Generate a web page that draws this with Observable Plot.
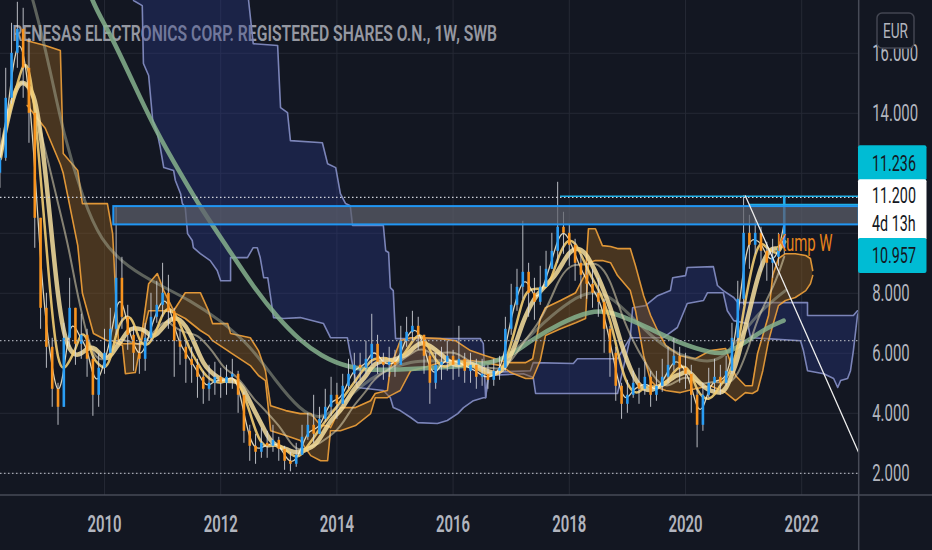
<!DOCTYPE html>
<html><head><meta charset="utf-8">
<script src="https://cdn.jsdelivr.net/npm/d3@7"></script>
<script src="https://cdn.jsdelivr.net/npm/@observablehq/plot@0.6"></script>
<style>html,body{margin:0;padding:0;background:#131722;overflow:hidden}</style>
</head><body><div id="chart"></div>
<script>
// ---------- data ----------
const title = "RENESAS ELECTRONICS CORP. REGISTERED SHARES O.N., 1W, SWB";
const currency = "EUR";
const cloudLabel = "Kump W";
const yearTicks = [2010, 2012, 2014, 2016, 2018, 2020, 2022];
const priceGrid = [2, 4, 6, 8, 10, 12, 14, 16];
const priceLabels = [2, 4, 6, 8, 14, 16]; // 10 and 12 sit under the price tags

// price bars, one every 0.1 year from 2008.2
const priceStart = 2008.2, priceStep = 0.1, firstOpen = 12.0;
const close = [
12.5,14.5,16.0,16.8,15.5,14.0,10.5,7.5,6.2,4.8,
4.2,6.5,7.5,6.3,6.6,5.8,4.6,5.5,6.0,6.8,
8.5,7.2,6.6,6.0,5.8,6.5,7.2,7.6,8.0,7.4,
6.4,6.2,5.8,5.6,5.2,4.8,5.0,5.2,5.0,5.2,
5.3,4.6,3.4,2.9,2.7,3.0,2.9,3.1,2.8,2.4,
2.3,2.6,3.2,3.6,3.3,3.8,4.2,4.6,4.3,4.9,
5.3,5.6,5.5,5.8,6.3,5.7,5.6,5.7,5.6,6.4,
6.7,6.9,6.6,5.9,5.0,5.6,5.7,5.9,5.6,5.8,
5.4,5.6,5.2,5.3,5.1,5.4,5.5,6.8,7.6,8.2,
8.7,8.0,7.7,8.2,8.8,9.4,10.2,10.0,9.6,9.0,
8.6,8.3,8.0,7.7,6.8,6.0,4.9,4.3,4.6,5.0,
4.8,5.2,4.6,4.9,5.2,5.6,5.9,5.5,5.3,4.6,
3.6,4.6,5.0,5.2,5.0,5.4,6.5,7.8,10.0,9.6,
10.0,9.4,9.0,9.2,9.5,11.2];
const high = [
13.5,15.5,17.0,17.7,17.5,16.5,14.0,10.5,8.0,6.5,
5.0,7.0,8.5,7.5,7.3,6.8,5.9,6.0,6.8,7.5,
10.9,9.2,7.6,6.9,6.4,7.0,8.0,8.4,9.0,8.6,
7.5,6.8,6.4,6.2,5.8,5.4,5.6,5.7,5.5,5.6,
5.8,5.4,4.7,3.6,3.3,3.5,3.4,3.6,3.2,2.9,
2.7,3.0,3.6,4.0,4.6,4.2,4.8,5.2,5.0,5.3,
5.8,6.0,6.0,6.4,7.3,6.6,6.0,6.2,6.1,6.9,
7.2,7.4,7.2,6.6,6.0,6.0,6.2,6.4,6.1,6.9,
6.0,6.0,5.8,5.8,5.6,5.8,5.9,7.2,8.3,8.8,
10.4,9.0,8.5,8.9,9.4,10.0,11.7,10.7,10.3,9.8,
9.3,9.0,8.8,8.5,7.8,6.9,6.2,5.0,5.1,5.4,
5.5,5.7,5.4,5.4,5.8,6.2,6.5,6.2,6.0,5.6,
4.8,5.0,5.5,5.8,5.6,5.9,7.0,8.4,11.25,10.6,
10.5,10.2,9.7,9.8,10.0,11.236];
const low = [
11.5,12.4,14.3,15.5,14.5,13.0,9.5,6.8,5.5,4.2,
3.6,4.2,6.2,5.6,5.8,5.2,3.9,4.2,5.3,6.0,
6.6,6.8,6.1,5.4,5.3,5.4,6.4,7.0,7.2,6.8,
5.2,5.6,5.0,5.0,4.5,4.3,4.4,4.6,4.5,4.6,
4.8,4.0,3.0,2.4,2.3,2.5,2.5,2.7,2.4,2.1,
2.05,2.2,2.6,3.1,3.0,3.3,3.7,3.9,3.8,4.3,
4.8,5.0,5.1,5.3,5.6,5.3,5.1,5.2,5.2,5.6,
6.2,6.4,6.1,5.3,4.3,4.8,5.1,5.4,5.1,5.2,
5.0,5.0,4.8,4.9,4.8,4.9,5.1,5.4,6.6,7.4,
7.8,7.2,7.1,7.6,8.2,8.8,9.0,9.3,8.9,8.4,
7.8,7.8,7.5,7.2,6.0,5.2,4.4,3.8,4.0,4.5,
4.3,4.6,4.2,4.4,4.7,5.0,5.4,5.0,4.8,4.0,
2.85,3.4,4.5,4.7,4.6,4.9,5.3,6.4,7.6,8.8,
9.3,8.7,8.4,8.5,8.9,9.3];

// weekly Ichimoku cloud (Kumo W): time, upper edge, lower edge
const kumoT = [2008.67,2008.98,2009.24,2009.29,2009.54,2009.62,2009.81,2010.05,2010.14,2010.19,2010.24,2010.31,2010.36,2010.53,2010.62,2010.76,2010.91,2011.02,2011.19,2011.39,2011.65,2011.79,2011.86,2012.12,2012.17,2012.51,2012.65,2012.77,2012.86,2013.12,2013.37,2013.55,2013.72,2013.84,2013.89,2014.06,2014.32,2014.58,2014.66,2014.87,2014.92,2015.09,2015.27,2015.49,2015.78,2016.04,2016.30,2016.56,2016.82,2016.99,2017.25,2017.37,2017.50,2017.59,2017.85,2018.11,2018.28,2018.33,2018.45,2018.57,2018.71,2018.83,2019.05,2019.14,2019.28,2019.40,2019.52,2019.66,2019.91,2020.17,2020.43,2020.69,2020.86,2021.03,2021.15,2021.24,2021.33,2021.43,2021.50,2021.60,2021.72,2021.89,2022.07,2022.15,2022.19];
const kumoHi = [16.42,16.26,16.09,12.66,12.09,10.99,10.99,10.99,9.99,8.09,6.42,6.32,6.32,6.32,6.32,8.32,8.66,8.09,7.42,8.02,8.02,7.42,6.99,6.99,6.66,6.52,6.09,5.42,4.25,4.09,3.99,3.99,3.59,3.59,3.52,4.19,4.19,4.42,4.66,4.76,5.52,6.42,6.52,6.52,6.49,6.42,6.09,5.92,5.76,5.69,5.69,5.82,7.16,7.52,7.76,8.02,8.66,10.15,10.15,9.59,9.56,9.49,9.49,8.92,7.92,7.26,6.76,6.26,5.92,5.82,6.09,6.16,5.26,4.92,4.92,5.99,6.59,7.26,8.59,9.16,9.32,9.32,9.26,9.16,8.76];
const kumoLo = [14.26,13.5,12.3,12.0,9.59,8.0,6.66,6.42,6.42,6.36,6.32,6.26,5.32,5.36,6.26,7.42,7.42,7.42,7.36,7.16,6.76,6.59,6.42,6.09,6.02,5.59,5.26,5.09,3.42,3.26,3.09,2.59,2.42,2.42,3.42,3.42,3.59,3.99,4.52,4.52,4.59,4.76,5.42,5.52,5.69,5.76,5.76,5.69,5.59,5.36,5.16,5.16,5.76,6.59,6.82,7.02,7.16,9.02,9.09,9.09,9.02,8.59,8.09,7.42,5.92,5.09,4.86,4.76,4.69,4.82,4.92,4.69,4.42,4.69,4.66,4.76,5.42,6.42,6.92,7.59,7.76,7.86,8.09,8.32,8.59];

// higher-timeframe cloud (navy): upper and lower edges
const navyUpT = [2010.46,2012.48,2012.48,2012.56,2012.98,2013.03,2013.15,2013.20,2013.75,2013.84,2013.98,2014.06,2014.15,2014.23,2014.27,2014.80,2014.84,2014.89,2014.92,2014.97,2015.01,2016.47,2016.52,2016.56,2016.61,2017.33,2017.38,2018.07,2018.14,2018.83,2019.05,2019.09,2019.31,2019.52,2019.74,2019.78,2020.00,2020.03,2020.48,2020.55,2020.65,2020.83,2020.90,2022.10,2022.10,2022.89,2022.96,2022.99];
const navyUpV = [18.4,18.4,17.76,16.32,16.26,14.19,14.02,13.09,13.02,12.32,12.19,11.32,10.99,10.92,10.26,10.26,9.42,9.36,8.19,8.09,6.49,6.49,6.32,4.52,5.36,5.42,5.69,5.66,5.82,5.82,6.52,7.52,7.59,7.92,8.09,8.52,8.59,8.86,8.89,8.26,8.09,7.86,7.69,7.69,7.26,7.26,7.42,7.42];
const navyLoT = [2010.46,2010.50,2010.65,2010.67,2010.76,2010.83,2010.91,2010.96,2011.02,2011.19,2011.22,2011.31,2011.34,2011.39,2011.43,2011.51,2011.53,2011.65,2011.82,2011.94,2012.00,2012.17,2012.17,2012.46,2012.56,2012.63,2012.68,2012.74,2012.81,2012.86,2012.91,2013.08,2013.37,2013.77,2013.89,2014.18,2014.23,2014.35,2014.80,2014.92,2014.97,2015.09,2015.27,2015.39,2015.73,2015.90,2016.08,2016.18,2016.35,2016.52,2016.56,2016.61,2017.21,2017.38,2017.42,2018.83,2019.05,2019.62,2019.86,2020.03,2020.31,2020.38,2020.65,2020.72,2020.83,2021.07,2021.12,2021.98,2022.03,2022.10,2022.38,2022.55,2022.62,2022.67,2022.79,2022.84,2022.89,2022.96,2022.99];
const navyLoV = [18.4,17.76,17.59,15.66,15.26,13.76,13.32,12.86,12.19,12.09,11.76,11.32,10.99,10.86,9.99,9.76,9.52,9.32,9.09,8.76,8.42,8.42,9.19,9.19,9.52,9.52,9.19,8.52,8.52,7.86,7.19,7.16,7.19,6.99,6.52,6.52,5.99,4.86,4.76,4.52,4.19,4.09,3.86,3.69,3.66,3.76,3.99,4.19,4.42,4.52,4.52,5.26,5.32,5.19,4.66,4.66,6.52,6.52,6.86,7.66,7.76,8.02,8.02,7.42,7.09,6.99,6.52,6.42,6.09,5.42,5.32,5.16,4.86,5.09,5.16,5.42,6.09,7.26,7.42];

// long moving averages
const greenT = [2009.59,2009.76,2010.10,2010.50,2010.91,2011.31,2011.65,2012.12,2012.57,2012.98,2013.37,2013.72,2014.18,2014.75,2015.44,2016.13,2016.64,2016.99,2017.33,2017.85,2018.37,2018.71,2019.35,2019.91,2020.48,2020.72,2021.07,2021.41,2021.69];
const greenV = [19.1,17.76,16.66,14.99,13.32,11.99,10.86,9.52,8.19,7.19,6.42,5.92,5.52,5.42,5.49,5.56,5.66,5.92,6.42,7.02,7.42,7.42,6.86,6.32,5.99,5.99,6.42,6.86,7.09];
const sageT = [2008.60,2008.78,2009.07,2009.29,2009.64,2009.93,2010.40,2010.96,2011.48,2012.00,2012.51,2012.94,2013.37,2013.72,2014.06,2014.41,2014.75,2015.27,2015.78,2016.30,2016.82,2017.16,2017.59,2018.02,2018.37,2018.71,2019.05,2019.40,2019.74,2020.09,2020.43,2020.69,2020.95,2021.29,2021.72];
const sageV = [18.8,17.76,15.42,13.32,11.09,9.76,8.86,8.26,7.76,7.09,6.26,5.09,4.09,3.76,4.26,4.92,5.36,5.76,5.76,5.69,5.69,6.26,7.09,7.76,8.09,7.92,7.26,6.59,6.09,5.82,5.69,5.92,6.59,7.42,8.09];

// drawings / levels
const zone = {t1: 2010.16, v1: 10.28, v2: 10.89};
const lastPrice = 11.2, highLevel = 11.236, levelB = 10.957, countdown = "4d 13h";
const highLevelStart = 2017.85, levelBStart = 2021.1, lastBar = 2021.7;
const dottedLevels = [6.42, 2.0];
const trendT = [2021.03, 2022.98], trendV = [11.25, 2.69];
const labelAt = {t: 2021.57, v: 9.66};

// ---------- build tables ----------
const X0 = 2008.21, X1 = 2022.99;
const candles = close.map((c, i) => ({t: +(priceStart + i * priceStep).toFixed(2), o: i ? close[i - 1] : firstOpen, c, h: high[i], l: low[i]}));
const kumo = kumoT.map((t, i) => ({t, hi: kumoHi[i], lo: kumoLo[i]}));
const navyUp = navyUpT.map((t, i) => ({t, v: navyUpV[i]}));
const navyLo = navyLoT.map((t, i) => ({t, v: navyLoV[i]}));
const navyPoly = navyUp.concat(navyLo.slice().reverse());
const green = greenT.map((t, i) => ({t, v: greenV[i]}));
const sage = sageT.map((t, i) => ({t, v: sageV[i]}));
const trend = trendT.map((t, i) => ({t, v: trendV[i]}));

const chart = Plot.plot({
  width: 932, height: 550,
  marginLeft: 0, marginRight: 73.3, marginTop: 0, marginBottom: 55,
  style: {background: "#131722", fontFamily: "Roboto, sans-serif", overflow: "visible"},
  x: {domain: [X0, X1], axis: null},
  y: {domain: [1.26, 17.76], axis: null},
  color: {type: "identity"},
  marks: [
    Plot.gridX(yearTicks, {stroke: "#252935", strokeOpacity: 1}),
    Plot.gridY(priceGrid, {stroke: "#252935", strokeOpacity: 1}),
    Plot.text([title], {frameAnchor: "top-left", dx: 12, dy: 33, lineAnchor: "middle", textAnchor: "start", fontSize: 22, fontWeight: 600, fill: "#9598a1"}),
    // navy cloud
    Plot.line(navyPoly, {x: "t", y: "v", fill: "#2b3b8f", fillOpacity: 0.34, stroke: "none", clip: true}),
    Plot.line(navyUp, {x: "t", y: "v", stroke: "#7b84b8", strokeWidth: 1.6, clip: true}),
    Plot.line(navyLo, {x: "t", y: "v", stroke: "#7b84b8", strokeWidth: 1.6, clip: true}),
    // Kumo W
    Plot.areaY(kumo, {x: "t", y1: "lo", y2: "hi", fill: "#8a5a20", fillOpacity: 0.45, clip: true}),
    Plot.line(kumo, {x: "t", y: "hi", stroke: "#f2a23a", strokeWidth: 1.6, strokeOpacity: 0.9, clip: true}),
    Plot.line(kumo, {x: "t", y: "lo", stroke: "#f2a23a", strokeWidth: 1.6, strokeOpacity: 0.9, clip: true}),
    // long averages
    Plot.line(sage, {x: "t", y: "v", stroke: "#a7ae95", strokeWidth: 3, strokeOpacity: 0.5, curve: "basis", clip: true}),
    Plot.line(green, {x: "t", y: "v", stroke: "#86b18d", strokeWidth: 4.5, strokeOpacity: 0.85, curve: "basis", clip: true}),
    // short averages from the price
    Plot.lineY(candles, Plot.windowY({k: 10, anchor: "end"}, {x: "t", y: "c", stroke: "#e3d9b4", strokeWidth: 2, strokeOpacity: 0.55, curve: "basis", clip: true})),
    Plot.lineY(candles, Plot.windowY({k: 6, anchor: "end"}, {x: "t", y: "c", stroke: "#f7df9e", strokeWidth: 4.5, strokeOpacity: 0.85, curve: "basis", clip: true})),
    Plot.lineY(candles, Plot.windowY({k: 4, anchor: "end"}, {x: "t", y: "c", stroke: "#f3cd72", strokeWidth: 2.5, strokeOpacity: 0.9, curve: "basis", clip: true})),
    Plot.lineY(candles, Plot.windowY({k: 2, anchor: "end"}, {x: "t", y: "c", stroke: "#fff4d2", strokeWidth: 1.3, strokeOpacity: 0.85, curve: "basis", clip: true})),
    // candles
    Plot.ruleX(candles, {x: "t", y1: "l", y2: "h", stroke: "#d6d8de", strokeWidth: 1, strokeOpacity: 0.85, clip: true}),
    Plot.ruleX(candles, {x: "t", y1: "o", y2: "c", stroke: d => d.c >= d.o ? "#2a9df4" : "#f7931e", strokeWidth: 2.6, clip: true}),
    // zone rectangle and levels
    Plot.rect([zone], {x1: "t1", x2: () => X1, y1: "v1", y2: "v2", fill: "#5d606b", fillOpacity: 0.72, stroke: "#2196f3", strokeWidth: 2, clip: true}),
    Plot.ruleY([lastPrice], {stroke: "#d1d4dc", strokeWidth: 1.2, strokeDasharray: "1.5,2.5"}),
    Plot.ruleY(dottedLevels, {stroke: "#a3a6b0", strokeWidth: 1.2, strokeDasharray: "1.5,2.5"}),
    Plot.ruleY([highLevel], {x1: highLevelStart, x2: X1, stroke: "#22b0e6", strokeWidth: 1.5}),
    Plot.ruleY([levelB], {x1: levelBStart, x2: X1, stroke: "#22b0e6", strokeWidth: 1.5}),
    Plot.ruleX([lastBar], {y1: levelB, y2: highLevel, stroke: "#22b0e6", strokeWidth: 1.5}),
    Plot.line(trend, {x: "t", y: "v", stroke: "#ececec", strokeWidth: 1.3, clip: true}),
    Plot.text([labelAt], {x: "t", y: "v", text: () => cloudLabel, textAnchor: "start", lineAnchor: "middle", fontSize: 23, fill: "#e8831c"}),
    // axes
    Plot.axisY(priceLabels, {anchor: "right", tickSize: 0, tickPadding: 13, tickFormat: d3.format(".3f"), fontSize: 23, color: "#b2b5be"}),
    Plot.axisX(yearTicks, {anchor: "bottom", tickSize: 0, tickPadding: 20, tickFormat: d => String(d), fontSize: 23, fontWeight: 600, color: "#b2b5be"})
  ]
});

document.getElementById("chart").append(chart);

// ---------- right-axis chrome, price tags ----------
const ys = chart.scale("y");
const svg = d3.select(chart);
svg.append("line").attr("x1", 858.7).attr("x2", 858.7).attr("y1", 0).attr("y2", 550).attr("stroke", "#474b57").attr("stroke-width", 1.5);
svg.append("line").attr("x1", 0).attr("x2", 932).attr("y1", 495).attr("y2", 495).attr("stroke", "#474b57").attr("stroke-width", 1.5);

const g = svg.append("g").attr("font-family", "Roboto, sans-serif").attr("text-anchor", "start");
function box(y0, y1, fill) {
  g.append("rect").attr("x", 858).attr("y", y0).attr("width", 68.5).attr("height", y1 - y0).attr("rx", 2).attr("fill", fill);
}
function label(txt, yc, fill, size) {
  g.append("text").attr("x", 872).attr("y", yc).attr("dy", "0.36em").attr("text-anchor", "start")
    .attr("font-size", size).attr("fill", fill).text(txt);
}
const yHigh = ys.apply(highLevel), yLast = ys.apply(lastPrice), yB = ys.apply(levelB);
box(yHigh - 50.5, yHigh - 15.5, "#00bcd4");
label(d3.format(".3f")(highLevel), yHigh - 33, "#131722", 22);
box(yLast - 17.5, yLast + 43.5, "#ffffff");
label(d3.format(".3f")(lastPrice), yLast - 1.5, "#131722", 22);
label(countdown, yLast + 26.5, "#131722", 22);
box(yB + 34, yB + 69, "#00bcd4");
label(d3.format(".3f")(levelB), yB + 51.5, "#131722", 22);

// currency badge
g.append("rect").attr("x", 877).attr("y", 13).attr("width", 37).attr("height", 35).attr("rx", 5)
  .attr("fill", "#131722").attr("stroke", "#434651").attr("stroke-width", 1.5);
g.append("text").attr("x", 895.5).attr("y", 30.5).attr("dy", "0.36em").attr("text-anchor", "middle")
  .attr("font-size", 21).attr("fill", "#b2b5be").text(currency);

// narrow letterforms of the reference: scale each text horizontally about its anchor
chart.querySelectorAll("text").forEach(el => {
  const w = el.getComputedTextLength();
  if (!w) return;
  const s = el.textContent === title ? 485 / w : 0.65;
  const xa = el.getAttribute("x");
  const ax = xa && /^-?[\d.]+$/.test(xa.trim()) ? +xa : 0;
  const tr = el.getAttribute("transform") || "";
  el.setAttribute("transform", `${tr} translate(${ax},0) scale(${s.toFixed(4)},1) translate(${-ax},0)`);
});
</script></body></html>
